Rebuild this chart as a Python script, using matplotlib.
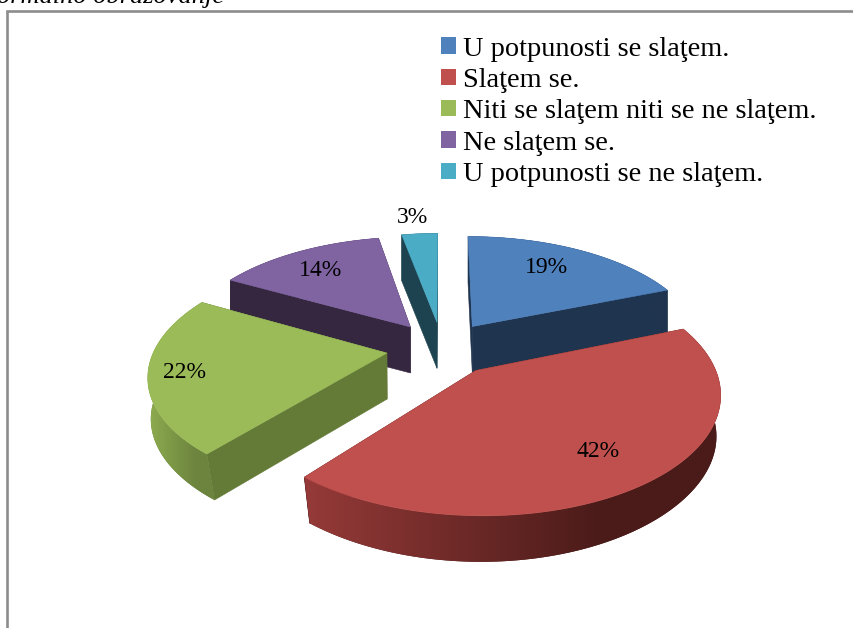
import numpy as np
import matplotlib
matplotlib.use("Agg")
import matplotlib.pyplot as plt
from matplotlib.patches import Polygon, Patch
from matplotlib.colors import to_rgb

# ---- data ----
categories = ["U potpunosti se slaţem.", "Slaţem se.", "Niti se slaţem niti se ne slaţem.",
              "Ne slaţem se.", "U potpunosti se ne slaţem."]
values = [19, 42, 22, 14, 3]
value_labels = ["19%", "42%", "22%", "14%", "3%"]
caption = "ormalno obrazovanje"

# ---- style ----
top_colors = ["#4F81BD", "#C0504D", "#9BBB59", "#8064A2", "#4BACC6"]
radial_colors = ["#1F344F", "#4A1B19", "#647A37", "#35273F", "#1E4350"]
wall_light = ["#1F344F", "#953A38", "#8EAC50", "#35273F", "#1E4350"]
wall_dark = ["#1F344F", "#4A1B19", "#6C843E", "#35273F", "#1E4350"]
draw_order = [3, 4, 0, 2, 1]
label_radii = [0.76, 0.74, 0.85, 0.75, 1.24]
label_nudge_x = [-10, 2, 0, -3, -4]

# projection of the tilted 3-D pie onto the page (pixels)
CX, CY, AX_R, BY_R, PERSP = 442, 348, 232, 112, 0.17
EXPLODE, DEPTH, BOTTOM_SHRINK = 0.24, 46, 0.00028


def project(X, Y):
    w = 1 + PERSP * np.asarray(Y)
    return CX + AX_R * np.asarray(X) / w, CY - BY_R * np.asarray(Y) / w


def lower(x, y):
    s = 1 - BOTTOM_SHRINK * np.clip(np.asarray(y) - CY + 10, 0, None)
    return CX + (np.asarray(x) - CX) * s, np.asarray(y) + DEPTH


fig = plt.figure(figsize=(8.54, 6.28), dpi=100)
ax = fig.add_axes([0, 0, 1, 1])
ax.set_xlim(0, 854)
ax.set_ylim(628, 0)
ax.set_autoscale_on(False)
ax.axis("off")

# frame (only top and left edges fall inside the crop)
ax.plot([7, 7, 860], [640, 10.5, 10.5], color="#8C8C8C", lw=1.9, solid_joinstyle="miter", zorder=1)
ax.text(-3, 3, caption, family="Liberation Serif", style="italic", fontsize=19, va="baseline", ha="left",
        color="black", clip_on=False)

fractions = np.array(values, dtype=float) / sum(values)
edges = np.concatenate([[0], np.cumsum(fractions)]) * 2 * np.pi
z = 2
for i in draw_order:
    a0, a1 = edges[i], edges[i + 1]
    mid = (a0 + a1) / 2
    ox, oy = EXPLODE * np.sin(mid), EXPLODE * np.cos(mid)
    th = np.linspace(a0, a1, 160)
    rx, ry = project(ox + np.sin(th), oy + np.cos(th))
    ax_, ay_ = project(ox, oy)
    ax_, ay_ = float(ax_), float(ay_)
    bx, by = lower(rx, ry)
    bax, bay = lower(ax_, ay_)
    bax, bay = float(bax), float(bay)
    # radial side faces
    for k in (0, -1):
        quad = [(rx[k], ry[k]), (ax_, ay_), (bax, bay), (bx[k], by[k])]
        ax.add_patch(Polygon(quad, closed=True, fc=radial_colors[i], ec=radial_colors[i], lw=0.4, zorder=z))
    z += 1
    # curved outer wall: a gradient clipped to the wall outline, shaded across the page
    wall = np.vstack([np.column_stack([rx, ry]), np.column_stack([bx, by])[::-1]])
    x0, x1 = wall[:, 0].min(), wall[:, 0].max()
    y0, y1 = wall[:, 1].min(), wall[:, 1].max()
    t = np.clip(np.linspace(0, 1, 256) / 0.72, 0, 1)
    c0, c1 = np.array(to_rgb(wall_light[i])), np.array(to_rgb(wall_dark[i]))
    grad = (c0[None, :] + (c1 - c0)[None, :] * t[:, None])[None, :, :]
    base = Polygon(wall, closed=True, fc=wall_dark[i], ec="none", zorder=z)
    ax.add_patch(base)
    img = ax.imshow(grad, extent=(x0, x1, y1, y0), aspect="auto", zorder=z + 0.5, interpolation="bilinear")
    img.set_clip_path(Polygon(wall, closed=True, transform=ax.transData))
    z += 1
    # top face
    poly = np.column_stack([np.r_[ax_, rx], np.r_[ay_, ry]])
    ax.add_patch(Polygon(poly, closed=True, fc=top_colors[i], ec=top_colors[i], lw=0.4, zorder=z))
    z += 1

# value labels
for i, lab in enumerate(value_labels):
    mid = (edges[i] + edges[i + 1]) / 2
    t = EXPLODE + label_radii[i]
    lx, ly = project(t * np.sin(mid), t * np.cos(mid))
    ax.text(float(lx) + label_nudge_x[i], float(ly) + 1, lab, family="Liberation Serif", fontsize=17,
            ha="center", va="center", color="black", zorder=100)

# legend
handles = [Patch(fc=c, ec="none", label=l) for c, l in zip(top_colors, categories)]
leg = ax.legend(handles=handles, loc="upper left", bbox_to_anchor=(433 / 854, 1 - 28 / 628),
                frameon=False, prop={"family": "Liberation Serif", "size": 20.4},
                handlelength=0.5, handleheight=0.5, handletextpad=0.25, labelspacing=0.225,
                borderaxespad=0, borderpad=0.3)
leg.set_zorder(100)

fig.savefig("out.png", dpi=100)
